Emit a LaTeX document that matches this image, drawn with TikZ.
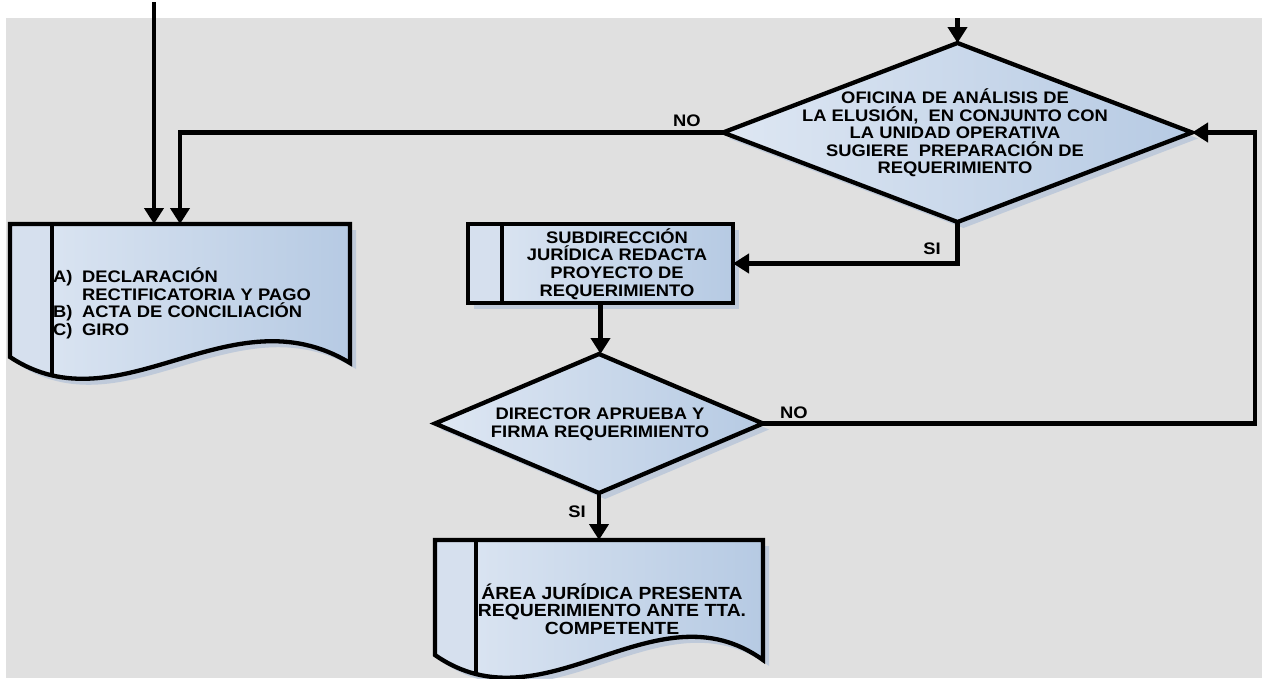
\documentclass[tikz,border=0pt]{standalone}
\usepackage{fontspec}
\setmainfont{Liberation Sans}[FakeStretch=1.1]
\usetikzlibrary{arrows.meta,shapes.geometric,shadows}
\definecolor{bgc}{RGB}{224,224,224}
\definecolor{fillL}{RGB}{222,231,243}
\definecolor{fillR}{RGB}{182,202,227}
\definecolor{stripc}{RGB}{214,224,238}
\definecolor{shadowc}{RGB}{170,188,214}
\newcommand{\pathDocA}{(10,224) -- (350,224) -- (350,363) .. controls (230,290) and (120,430) .. (10,357) -- cycle}
\newcommand{\pathDocC}{(435,540) -- (763,540) -- (763,660) .. controls (655,582) and (545,732) .. (435,655) -- cycle}
\tikzset{
  lw/.style={line width=4.3pt},
  conn/.style={line width=4.3pt, -{Triangle[length=16pt,width=19pt]}},
  shapefill/.style={left color=fillL, right color=fillR},
  shad/.style={drop shadow={fill=shadowc, opacity=0.6, shadow xshift=6pt, shadow yshift=-6pt}},
  txt/.style={font=\bfseries\fontsize{16.7}{17.6}\selectfont, align=center, inner sep=0pt},
  lbl/.style={font=\bfseries\fontsize{16.7}{17.6}\selectfont, inner sep=0pt},
  dia/.style={diamond, draw, line width=4.3pt, shapefill, shad, inner sep=0pt, outer sep=0pt},
}
\begin{document}
\begin{tikzpicture}[x=1pt,y=-1pt]
\useasboundingbox (0,0) rectangle (1262,678);
\fill[white] (0,0) rectangle (1262,678);
\fill[bgc] (6,18) rectangle (1262,678);

% left document
\path[shad, shapefill] \pathDocA;
\begin{scope}
  \clip \pathDocA;
  \fill[stripc] (10,224) rectangle (52,430);
  \draw[lw] (52,224) -- (52,430);
\end{scope}
\draw[lw] \pathDocA;
\node[txt, align=left, anchor=west] (docA) at (53,303.5)
  {\makebox[29pt][l]{A)}DECLARACIÓN\\\hspace*{29pt}RECTIFICATORIA Y PAGO\\\makebox[29pt][l]{B)}ACTA DE CONCILIACIÓN\\\makebox[29pt][l]{C)}GIRO};
\coordinate (docAin1) at (154,224);
\coordinate (docAin2) at (180,224);
\coordinate (topL) at (154,2);

% diamond 1
\node[dia, minimum width=469pt, minimum height=179pt] (d1) at (957.5,132.5) {};
\node[txt] (d1t) at (955,133) {OFICINA DE ANÁLISIS DE\\LA ELUSIÓN,\ \ EN CONJUNTO CON\\LA UNIDAD OPERATIVA\\SUGIERE\ \ PREPARACIÓN DE\\REQUERIMIENTO};
\coordinate (topR) at (957.5,18);

% process box
\node[draw, lw, shapefill, shad, minimum width=265pt, minimum height=79pt, inner sep=0pt, outer sep=0pt] (b2) at (600.5,263.5) {};
\fill[stripc] (470,226) rectangle (502,301);
\draw[lw] (502,224) -- (502,303);
\draw[lw] (468,224) rectangle (733,303);
\node[txt] (b2t) at (617,264) {SUBDIRECCIÓN\\JURÍDICA REDACTA\\PROYECTO DE\\REQUERIMIENTO};

% diamond 2
\node[dia, minimum width=328pt, minimum height=139pt] (d2) at (599,423.5) {};
\node[txt] (d2t) at (600,424.5) {DIRECTOR APRUEBA Y\\FIRMA REQUERIMIENTO};

% bottom document
\path[shad, shapefill] \pathDocC;
\begin{scope}
  \clip \pathDocC;
  \fill[stripc] (435,540) rectangle (476,700);
  \draw[lw] (476,540) -- (476,700);
\end{scope}
\draw[lw] \pathDocC;
\node[txt, font=\bfseries\fontsize{17.6}{17.3}\selectfont] (docC) at (612,609) {ÁREA JURÍDICA PRESENTA\\REQUERIMIENTO ANTE TTA.\\COMPETENTE};
\coordinate (docCin) at (599,540);
\coordinate (rx) at (1255,0);

% connectors
\draw[conn] (topL) -- (docAin1);
\draw[conn] (d1.west) -| (docAin2);
\draw[conn] (topR) -- (d1.north);
\draw[conn] (d1.south) |- (b2.east);
\draw[conn] (b2.south) -- (b2.south |- d2.north);
\draw[conn] (d2.east) -- (d2.east -| rx) |- (d1.east);
\draw[conn] (d2.south) -- (docCin);

% labels
\node[lbl] (no1) at (687,121) {NO};
\node[lbl] (si1) at (932,249) {SI};
\node[lbl] (no2) at (794,413) {NO};
\node[lbl] (si2) at (577,512) {SI};
\end{tikzpicture}
\end{document}
